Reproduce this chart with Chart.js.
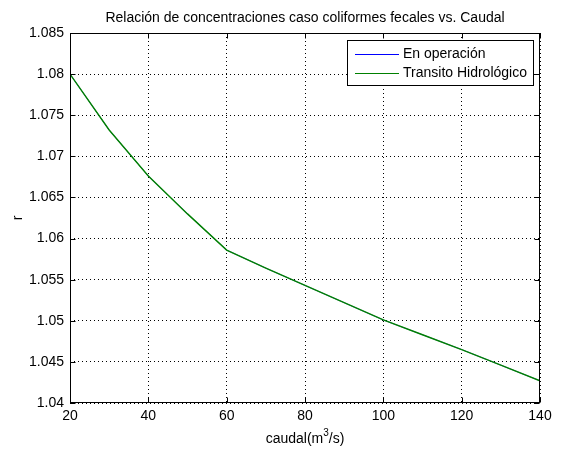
<!DOCTYPE html>
<html>
<head>
<meta charset="utf-8">
<script src="https://cdn.jsdelivr.net/npm/chart.js@4.4.1/dist/chart.umd.min.js"></script>
<style>
  html, body { margin: 0; padding: 0; background: #fff; }
  #wrap { width: 561px; height: 450px; }
</style>
</head>
<body>
<div id="wrap"><canvas id="myChart" width="561" height="450"></canvas></div>
<script>
// --- data ---
const caudal = [20, 30, 40, 50, 60, 70, 80, 90, 100, 110, 120, 130, 140];
const enOperacion = [1.0800, 1.0732, 1.0676, 1.0630, 1.0586, 1.0564, 1.0543, 1.0522, 1.0501, 1.0483, 1.0465, 1.0446, 1.0427];
const transito = [1.0800, 1.0732, 1.0676, 1.0630, 1.0586, 1.0564, 1.0543, 1.0522, 1.0501, 1.0483, 1.0465, 1.0446, 1.0427];
const seriesNames = ['En operación', 'Transito Hidrológico'];
const xTicks = [20, 40, 60, 80, 100, 120, 140];
const yTicks = [1.04, 1.045, 1.05, 1.055, 1.06, 1.065, 1.07, 1.075, 1.08, 1.085];

const FONT = '"Liberation Sans", Arial, sans-serif';
const FS = 14;

function toPoints(ys) {
    return caudal.map((x, i) => ({ x: x, y: ys[i] }));
}

// frame, inward ticks, legend box and the titles, matlab style
const matlabDeco = {
    id: 'matlabDeco',
    afterDatasetsDraw(chart) {
        const ctx = chart.ctx;
        const a = chart.chartArea;
        const xs = chart.scales.x, ys = chart.scales.y;
        const L = Math.round(a.left) + 0.5, R = Math.round(a.right) - 0.5;
        const T = Math.round(a.top) + 0.5, B = Math.round(a.bottom) - 0.5;
        ctx.save();
        ctx.strokeStyle = '#000';
        ctx.lineWidth = 1;
        ctx.beginPath();
        xTicks.forEach(v => {
            const px = Math.round(xs.getPixelForValue(v)) + 0.5;
            ctx.moveTo(px, B); ctx.lineTo(px, B - 5);
            ctx.moveTo(px, T); ctx.lineTo(px, T + 5);
        });
        yTicks.forEach(v => {
            const py = Math.round(ys.getPixelForValue(v)) + 0.5;
            ctx.moveTo(L, py); ctx.lineTo(L + 5, py);
            ctx.moveTo(R, py); ctx.lineTo(R - 5, py);
        });
        ctx.stroke();
        ctx.strokeRect(L, T, R - L, B - T);

        // legend
        const lx = 347.5, ly = 40.5, lw = 186, lh = 45;
        ctx.fillStyle = '#fff';
        ctx.fillRect(lx, ly, lw, lh);
        ctx.strokeRect(lx, ly, lw, lh);
        ctx.font = FS + 'px ' + FONT;
        ctx.textBaseline = 'middle';
        ctx.textAlign = 'left';
        chart.data.datasets.forEach((ds, i) => {
            const y = 54.5 + i * 19;
            ctx.strokeStyle = ds.borderColor;
            ctx.lineWidth = 1;
            ctx.beginPath();
            ctx.moveTo(355, y); ctx.lineTo(399, y);
            ctx.stroke();
            ctx.fillStyle = '#000';
            ctx.fillText(ds.label, 403, y);
        });

        // titles
        ctx.fillStyle = '#000';
        ctx.textAlign = 'center';
        ctx.font = FS + 'px ' + FONT;
        const cx = (a.left + a.right) / 2;
        ctx.fillText('Relación de concentraciones caso coliformes fecales vs. Caudal', cx, 18);

        // x label with superscript
        const p1 = 'caudal(m', sup = '3', p2 = '/s)';
        const w1 = ctx.measureText(p1).width, w2 = ctx.measureText(p2).width;
        ctx.font = '10px ' + FONT;
        const ws = ctx.measureText(sup).width;
        let x0 = cx - (w1 + ws + w2) / 2;
        ctx.textAlign = 'left';
        ctx.font = FS + 'px ' + FONT;
        ctx.fillText(p1, x0, 439);
        ctx.font = '10px ' + FONT;
        ctx.fillText(sup, x0 + w1, 433);
        ctx.font = FS + 'px ' + FONT;
        ctx.fillText(p2, x0 + w1 + ws, 439);

        // y label
        ctx.translate(18, (a.top + a.bottom) / 2);
        ctx.rotate(-Math.PI / 2);
        ctx.textAlign = 'center';
        ctx.fillText('r', 0, 0);
        ctx.restore();
    }
};

const whiteBg = {
    id: 'whiteBg',
    beforeDraw(chart) {
        const ctx = chart.ctx;
        ctx.save();
        ctx.fillStyle = '#fff';
        ctx.fillRect(0, 0, chart.width, chart.height);
        ctx.restore();
    }
};

window.onload = function() {
    const ctx = document.getElementById('myChart').getContext('2d');
    new Chart(ctx, {
        type: 'line',
        data: {
            datasets: [
                { label: seriesNames[0], data: toPoints(enOperacion), borderColor: '#0000ff', borderWidth: 0.6, pointRadius: 0, tension: 0, order: 2 },
                { label: seriesNames[1], data: toPoints(transito), borderColor: '#008000', borderWidth: 1.4, pointRadius: 0, tension: 0, order: 1 }
            ]
        },
        options: {
            responsive: false,
            animation: false,
            layout: { padding: { left: 0, right: 21, top: 33, bottom: 0 } },
            plugins: {
                legend: { display: false },
                title: { display: false },
                tooltip: { enabled: false }
            },
            scales: {
                x: {
                    type: 'linear',
                    min: 20, max: 140,
                    afterBuildTicks: s => { s.ticks = xTicks.map(v => ({ value: v })); },
                    afterFit: s => { s.height = 47; },
                    grid: { color: '#000', lineWidth: 1, drawTicks: false },
                    border: { display: false, dash: [1, 3] },
                    ticks: { color: '#000', font: { family: FONT, size: FS }, padding: 5, maxRotation: 0 }
                },
                y: {
                    type: 'linear',
                    min: 1.04, max: 1.085,
                    afterBuildTicks: s => { s.ticks = yTicks.map(v => ({ value: v })); },
                    afterFit: s => { s.width = 70; },
                    grid: { color: '#000', lineWidth: 1, drawTicks: false },
                    border: { display: false, dash: [1, 3] },
                    ticks: {
                        color: '#000', font: { family: FONT, size: FS }, padding: 6,
                        callback: v => String(Number(v.toFixed(3)))
                    }
                }
            }
        },
        plugins: [whiteBg, matlabDeco]
    });
};
</script>
</body>
</html>
